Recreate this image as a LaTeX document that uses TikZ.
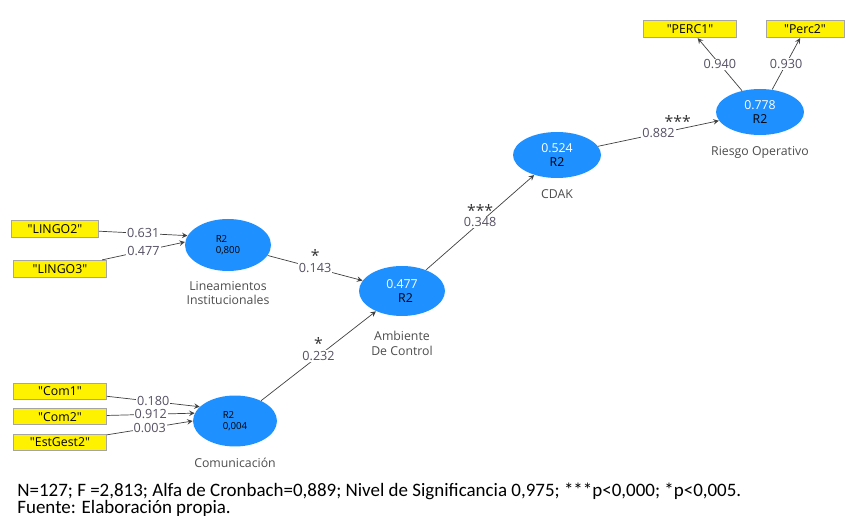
\documentclass[tikz,border=0pt]{standalone}
\usepackage{fontspec}
\setmainfont{Carlito}
\setsansfont{Open Sans}
\usepackage{tikz}
\usetikzlibrary{positioning}
\usetikzlibrary{shapes.geometric,arrows}
\definecolor{latblue}{RGB}{30,144,255}
\definecolor{boxgray}{RGB}{165,165,165}
\definecolor{coefgray}{RGB}{85,80,100}
\newcommand{\qt}[1]{\textquotedbl#1\textquotedbl}
\tikzstyle{latent} = [ellipse, fill=latblue, minimum width=1.72cm, minimum height=1.0cm, inner sep=0pt, align=left, font=\sffamily\fontsize{5.5}{6.5}\selectfont]
\tikzstyle{indicator} = [rectangle, draw=boxgray, fill=yellow, minimum width=1.86cm, minimum height=0.35cm, inner sep=0pt, font=\sffamily\fontsize{7}{8}\selectfont]
\tikzstyle{caption} = [align=center, text=black!70, font=\sffamily\fontsize{7}{8.2}\selectfont]
\tikzstyle{coef} = [fill=white, inner sep=0.6pt, text=coefgray, font=\sffamily\fontsize{7.2}{8}\selectfont]
\tikzstyle{stars} = [inner sep=0pt, text=black!80, font=\sffamily\fontsize{9}{9}\selectfont]
\tikzstyle{arrow} = [->,>=stealth, draw=black!75]

\begin{document}
\begin{tikzpicture}[x=0.02cm, y=-0.02cm]
	\useasboundingbox (0,0) rectangle (846,516);
	% latent variables
	\node (lin) [latent, minimum width=1.72cm, minimum height=1.04cm] at (228,245) {R2\\0,800};
	\node (com) [latent, minimum width=1.68cm, minimum height=1.02cm] at (235,421) {R2\\0,004};
	\node (amb) [latent, align=center, font=\sffamily\fontsize{7}{8.5}\selectfont] at (402,291) {\textcolor{white}{0.477}\\[-0.5pt]\hspace*{4pt}R2};
	\node (cdak) [latent, align=center, minimum width=1.76cm, minimum height=0.92cm, font=\sffamily\fontsize{7}{8.5}\selectfont] at (557,155) {\textcolor{white}{0.524}\\[-1pt]R2};
	\node (rie) [latent, align=center, minimum width=1.76cm, minimum height=0.92cm, font=\sffamily\fontsize{7}{8.5}\selectfont] at (760,112) {\textcolor{white}{0.778}\\[-1pt]R2};
	\node [caption, below=2pt of lin] {Lineamientos\\Institucionales};
	\node [caption, below=3pt of com] {Comunicación};
	\node [caption, below=5pt of amb] {Ambiente\\De Control};
	\node [caption, below=3pt of cdak] {CDAK};
	\node [caption, below=3pt of rie] {Riesgo Operativo};
	% indicators
	\node (lingoA) [indicator, minimum width=1.74cm] at (55,229) {\qt{LINGO2}};
	\node (lingoB) [indicator] at (60,269) {\qt{LINGO3}};
	\node (comA) [indicator, minimum height=0.32cm] at (60,391) {\qt{Com1}};
	\node (comB) [indicator, minimum height=0.32cm, below=0.18cm of comA] {\qt{Com2}};
	\node (est) [indicator, minimum height=0.32cm, below=0.18cm of comB] {\qt{EstGest2}};
	\node (percA) [indicator] at (690,29) {\qt{PERC1}};
	\node (percB) [indicator, minimum width=1.56cm] at (805,29) {\qt{Perc2}};
	% loadings
	\draw [arrow] (lingoA) -- node[coef]{0.631} (lin.167);
	\draw [arrow] (lingoB) -- node[coef]{0.477} (lin.176);
	\draw [arrow] (comA) -- node[coef]{0.180} (com.158);
	\draw [arrow] (comB) -- node[coef]{0.912} (com.169);
	\draw [arrow] (est) -- node[coef]{0.003} (com.180);
	\draw [arrow] (rie) -- node[coef]{0.940} (percA);
	\draw [arrow] (rie) -- node[coef]{0.930} (percB);
	% paths
	\draw [arrow] (lin) -- node[coef, label={[stars]above:*}]{0.143} (amb);
	\draw [arrow] (com) -- node[coef, label={[stars]above:*}]{0.232} (amb);
	\draw [arrow] (amb) -- node[coef, label={[stars]above:***}]{0.348} (cdak);
	\draw [arrow] (cdak) -- node[coef, label={[stars, xshift=11pt]above:***}]{0.882} (rie);
	% note
	\node [anchor=north west, align=left, inner sep=0pt, text=black, font=\fontsize{10.8}{9.6}\selectfont] at (17,483) {N=127; F =2,813; Alfa de Cronbach=0,889; Nivel de Significancia 0,975; ***p<0,000; *p<0,005.\\Fuente: Elaboración propia.};
\end{tikzpicture}
\end{document}
